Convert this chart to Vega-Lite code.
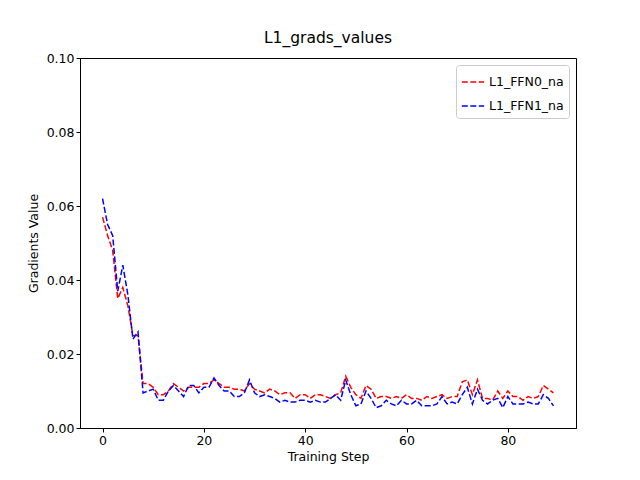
{
  "$schema": "https://vega.github.io/schema/vega-lite/v6.json",
  "width": 496,
  "height": 370,
  "autosize": "none",
  "padding": {"left": 80, "top": 58, "right": 64, "bottom": 52},
  "title": {"text": "L1_grads_values", "font": "DejaVu Sans", "fontSize": 15.5, "fontWeight": "normal", "color": "black", "offset": 6},
  "config": {
    "font": "DejaVu Sans",
    "view": {"stroke": "black", "strokeWidth": 1},
    "axis": {"grid": false, "labelFontSize": 12.5, "titleFontSize": 12.5, "titleFontWeight": "normal", "titleColor": "black", "domainColor": "black", "tickColor": "black", "labelColor": "black", "tickSize": 4}
  },
  "data": {"values": [
    {"step":0,"L1_FFN0_na":0.057,"L1_FFN1_na":0.062},{"step":1,"L1_FFN0_na":0.052,"L1_FFN1_na":0.055},{"step":2,"L1_FFN0_na":0.048,"L1_FFN1_na":0.052},{"step":3,"L1_FFN0_na":0.035,"L1_FFN1_na":0.037},{"step":4,"L1_FFN0_na":0.038,"L1_FFN1_na":0.044},{"step":5,"L1_FFN0_na":0.033,"L1_FFN1_na":0.036},{"step":6,"L1_FFN0_na":0.025,"L1_FFN1_na":0.024},{"step":7,"L1_FFN0_na":0.025,"L1_FFN1_na":0.026},{"step":8,"L1_FFN0_na":0.012,"L1_FFN1_na":0.0095},{"step":9,"L1_FFN0_na":0.012,"L1_FFN1_na":0.010},
    {"step":10,"L1_FFN0_na":0.011,"L1_FFN1_na":0.0105},{"step":11,"L1_FFN0_na":0.009,"L1_FFN1_na":0.0075},{"step":12,"L1_FFN0_na":0.009,"L1_FFN1_na":0.0075},{"step":13,"L1_FFN0_na":0.010,"L1_FFN1_na":0.010},{"step":14,"L1_FFN0_na":0.012,"L1_FFN1_na":0.0115},{"step":15,"L1_FFN0_na":0.011,"L1_FFN1_na":0.010},{"step":16,"L1_FFN0_na":0.010,"L1_FFN1_na":0.0085},{"step":17,"L1_FFN0_na":0.011,"L1_FFN1_na":0.0115},{"step":18,"L1_FFN0_na":0.011,"L1_FFN1_na":0.0115},{"step":19,"L1_FFN0_na":0.011,"L1_FFN1_na":0.0095},
    {"step":20,"L1_FFN0_na":0.012,"L1_FFN1_na":0.011},{"step":21,"L1_FFN0_na":0.012,"L1_FFN1_na":0.011},{"step":22,"L1_FFN0_na":0.013,"L1_FFN1_na":0.0135},{"step":23,"L1_FFN0_na":0.012,"L1_FFN1_na":0.0115},{"step":24,"L1_FFN0_na":0.011,"L1_FFN1_na":0.010},{"step":25,"L1_FFN0_na":0.011,"L1_FFN1_na":0.010},{"step":26,"L1_FFN0_na":0.0105,"L1_FFN1_na":0.0085},{"step":27,"L1_FFN0_na":0.0105,"L1_FFN1_na":0.0085},{"step":28,"L1_FFN0_na":0.010,"L1_FFN1_na":0.0095},{"step":29,"L1_FFN0_na":0.012,"L1_FFN1_na":0.013},
    {"step":30,"L1_FFN0_na":0.0105,"L1_FFN1_na":0.0095},{"step":31,"L1_FFN0_na":0.010,"L1_FFN1_na":0.0085},{"step":32,"L1_FFN0_na":0.0095,"L1_FFN1_na":0.009},{"step":33,"L1_FFN0_na":0.0105,"L1_FFN1_na":0.0085},{"step":34,"L1_FFN0_na":0.010,"L1_FFN1_na":0.008},{"step":35,"L1_FFN0_na":0.009,"L1_FFN1_na":0.007},{"step":36,"L1_FFN0_na":0.0095,"L1_FFN1_na":0.0075},{"step":37,"L1_FFN0_na":0.0095,"L1_FFN1_na":0.007},{"step":38,"L1_FFN0_na":0.008,"L1_FFN1_na":0.007},{"step":39,"L1_FFN0_na":0.009,"L1_FFN1_na":0.0075},
    {"step":40,"L1_FFN0_na":0.009,"L1_FFN1_na":0.0075},{"step":41,"L1_FFN0_na":0.008,"L1_FFN1_na":0.007},{"step":42,"L1_FFN0_na":0.009,"L1_FFN1_na":0.0075},{"step":43,"L1_FFN0_na":0.009,"L1_FFN1_na":0.007},{"step":44,"L1_FFN0_na":0.0085,"L1_FFN1_na":0.007},{"step":45,"L1_FFN0_na":0.008,"L1_FFN1_na":0.008},{"step":46,"L1_FFN0_na":0.009,"L1_FFN1_na":0.009},{"step":47,"L1_FFN0_na":0.0095,"L1_FFN1_na":0.0075},{"step":48,"L1_FFN0_na":0.014,"L1_FFN1_na":0.013},{"step":49,"L1_FFN0_na":0.011,"L1_FFN1_na":0.009},
    {"step":50,"L1_FFN0_na":0.009,"L1_FFN1_na":0.006},{"step":51,"L1_FFN0_na":0.008,"L1_FFN1_na":0.0065},{"step":52,"L1_FFN0_na":0.0115,"L1_FFN1_na":0.010},{"step":53,"L1_FFN0_na":0.0105,"L1_FFN1_na":0.008},{"step":54,"L1_FFN0_na":0.008,"L1_FFN1_na":0.0055},{"step":55,"L1_FFN0_na":0.0085,"L1_FFN1_na":0.006},{"step":56,"L1_FFN0_na":0.0085,"L1_FFN1_na":0.0075},{"step":57,"L1_FFN0_na":0.008,"L1_FFN1_na":0.0065},{"step":58,"L1_FFN0_na":0.0085,"L1_FFN1_na":0.006},{"step":59,"L1_FFN0_na":0.008,"L1_FFN1_na":0.0075},
    {"step":60,"L1_FFN0_na":0.009,"L1_FFN1_na":0.0065},{"step":61,"L1_FFN0_na":0.008,"L1_FFN1_na":0.0065},{"step":62,"L1_FFN0_na":0.008,"L1_FFN1_na":0.0075},{"step":63,"L1_FFN0_na":0.0075,"L1_FFN1_na":0.006},{"step":64,"L1_FFN0_na":0.0085,"L1_FFN1_na":0.006},{"step":65,"L1_FFN0_na":0.008,"L1_FFN1_na":0.006},{"step":66,"L1_FFN0_na":0.0085,"L1_FFN1_na":0.0065},{"step":67,"L1_FFN0_na":0.009,"L1_FFN1_na":0.0085},{"step":68,"L1_FFN0_na":0.008,"L1_FFN1_na":0.0065},{"step":69,"L1_FFN0_na":0.0085,"L1_FFN1_na":0.007},
    {"step":70,"L1_FFN0_na":0.0085,"L1_FFN1_na":0.0065},{"step":71,"L1_FFN0_na":0.0125,"L1_FFN1_na":0.009},{"step":72,"L1_FFN0_na":0.013,"L1_FFN1_na":0.011},{"step":73,"L1_FFN0_na":0.009,"L1_FFN1_na":0.0065},{"step":74,"L1_FFN0_na":0.013,"L1_FFN1_na":0.0105},{"step":75,"L1_FFN0_na":0.008,"L1_FFN1_na":0.0075},{"step":76,"L1_FFN0_na":0.008,"L1_FFN1_na":0.0065},{"step":77,"L1_FFN0_na":0.0075,"L1_FFN1_na":0.0075},{"step":78,"L1_FFN0_na":0.010,"L1_FFN1_na":0.008},{"step":79,"L1_FFN0_na":0.008,"L1_FFN1_na":0.0055},
    {"step":80,"L1_FFN0_na":0.010,"L1_FFN1_na":0.0085},{"step":81,"L1_FFN0_na":0.0085,"L1_FFN1_na":0.0065},{"step":82,"L1_FFN0_na":0.0085,"L1_FFN1_na":0.0065},{"step":83,"L1_FFN0_na":0.0075,"L1_FFN1_na":0.0065},{"step":84,"L1_FFN0_na":0.0085,"L1_FFN1_na":0.007},{"step":85,"L1_FFN0_na":0.008,"L1_FFN1_na":0.0065},{"step":86,"L1_FFN0_na":0.0085,"L1_FFN1_na":0.0065},{"step":87,"L1_FFN0_na":0.0115,"L1_FFN1_na":0.009},{"step":88,"L1_FFN0_na":0.0105,"L1_FFN1_na":0.008},{"step":89,"L1_FFN0_na":0.0095,"L1_FFN1_na":0.006}
  ]},
  "transform": [{"fold": ["L1_FFN0_na", "L1_FFN1_na"], "as": ["series", "value"]}],
  "mark": {"type": "line", "strokeDash": [6, 2.5], "strokeWidth": 1.5, "clip": true},
  "encoding": {
    "x": {"field": "step", "type": "quantitative", "title": "Training Step", "scale": {"domain": [-4.45, 93.45], "nice": false, "zero": false}, "axis": {"values": [0, 20, 40, 60, 80], "titlePadding": 4}},
    "y": {"field": "value", "type": "quantitative", "title": "Gradients Value", "scale": {"domain": [0, 0.1], "nice": false}, "axis": {"values": [0, 0.02, 0.04, 0.06, 0.08, 0.1], "format": ".2f", "titlePadding": 6}},
    "color": {
      "field": "series", "type": "nominal",
      "scale": {"domain": ["L1_FFN0_na", "L1_FFN1_na"], "range": ["#ff0000", "#0000ff"]},
      "legend": {"title": null, "orient": "top-right", "offset": 7, "symbolType": "stroke", "symbolSize": 500, "symbolStrokeWidth": 1.5, "symbolDash": [6, 2.5], "labelFontSize": 12.5, "labelColor": "black", "padding": 5, "strokeColor": "#cccccc", "fillColor": "white", "cornerRadius": 3, "rowPadding": 5}
    }
  }
}
